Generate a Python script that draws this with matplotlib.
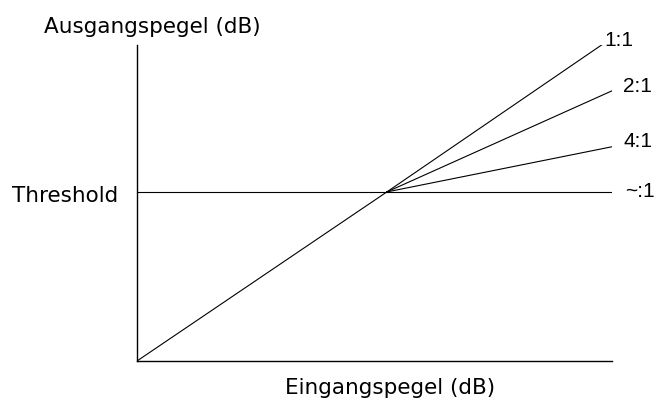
import matplotlib
matplotlib.use("Agg")
import matplotlib.pyplot as plt
import matplotlib.transforms as mtransforms

# Data (arbitrary dB units)
threshold = 53.5
knee_x = 52.6
curve_labels = ["1:1", "2:1", "4:1", "~:1"]
end_x = [97.8, 100.0, 100.0, 100.0]
end_y = [100.0, 85.5, 67.8, 53.5]
label_x = [98.3, 102.4, 102.4, 102.8]
label_y = [101.3, 86.9, 69.5, 53.5]

plt.rcParams['font.family'] = ['DejaVu Sans']
fig = plt.figure(figsize=(6.56, 4.01), dpi=100)
ax = fig.add_axes([137/656, 40/401, 475/656, 316/401])
ax.set_xlim(0, 100)
ax.set_ylim(0, 100)
for s in ['top', 'right']:
    ax.spines[s].set_visible(False)
for s in ['left', 'bottom']:
    ax.spines[s].set_linewidth(1.0)
ax.set_xticks([])
ax.set_yticks([])

# lower segment (1:1 below threshold)
ax.plot([0, knee_x], [0, threshold], color='black', lw=0.8)
for ex, ey in zip(end_x, end_y):
    ax.plot([knee_x, ex], [threshold, ey], color='black', lw=0.8)
# threshold line from axis to knee
ax.plot([0, knee_x], [threshold, threshold], color='black', lw=0.8)

for lab, lx, ly in zip(curve_labels, label_x, label_y):
    ax.text(lx, ly, lab, ha='left', va='center', fontsize=15,
            family=['Liberation Sans', 'DejaVu Sans'], clip_on=False)

trans = mtransforms.blended_transform_factory(ax.transAxes, ax.transData)
ax.text(-0.04, threshold - 1.2, "Threshold", transform=trans, ha='right', va='center', fontsize=15.5)

fig.text(152/656, (401-33)/401, "Ausgangspegel (dB)", ha='center', va='baseline', fontsize=15.5)
fig.text(390/656, (401-394)/401, "Eingangspegel (dB)", ha='center', va='baseline', fontsize=15.5)

fig.savefig("out.png", dpi=100)
